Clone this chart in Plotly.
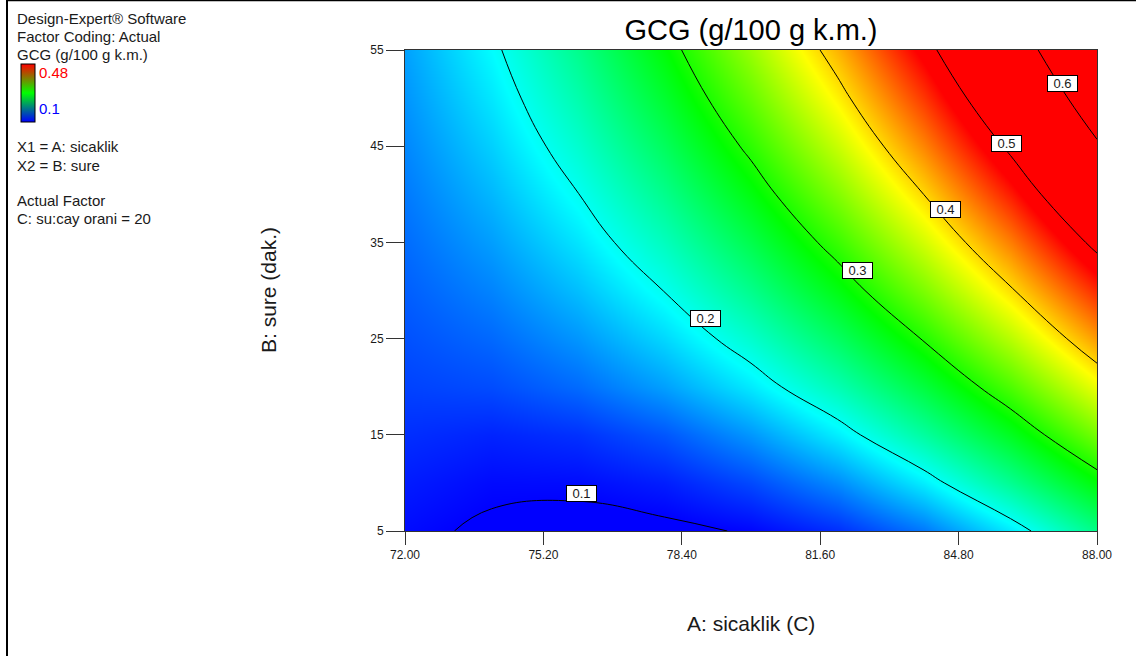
import plotly.graph_objects as go

# ---------------- data ----------------
x_vals = [72, 74, 76, 78, 80, 82, 84, 86, 88]                 # A: sicaklik (C)
y_vals = [5, 10, 15, 20, 25, 30, 35, 40, 45, 50, 55]          # B: sure (dak.)
z_y5  = [0.1040, 0.0970, 0.0935, 0.0955, 0.1017, 0.1170, 0.1445, 0.1875, 0.2400]
z_y10 = [0.1100, 0.1035, 0.1040, 0.1110, 0.1270, 0.1520, 0.1890, 0.2360, 0.2873]
z_y15 = [0.1170, 0.1130, 0.1180, 0.1320, 0.1560, 0.1890, 0.2306, 0.2781, 0.3336]
z_y20 = [0.1244, 0.1282, 0.1398, 0.1596, 0.1874, 0.2232, 0.2670, 0.3188, 0.3786]
z_y25 = [0.1298, 0.1389, 0.1557, 0.1805, 0.2132, 0.2537, 0.3021, 0.3583, 0.4224]
z_y30 = [0.1350, 0.1491, 0.1710, 0.2006, 0.2380, 0.2832, 0.3360, 0.3967, 0.4650]
z_y35 = [0.1402, 0.1591, 0.1856, 0.2198, 0.2618, 0.3114, 0.3688, 0.4337, 0.5100]
z_y40 = [0.1452, 0.1686, 0.1995, 0.2382, 0.2846, 0.3386, 0.4003, 0.4710, 0.5530]
z_y45 = [0.1503, 0.1778, 0.2130, 0.2559, 0.3065, 0.3647, 0.4308, 0.5070, 0.5950]
z_y50 = [0.1553, 0.1866, 0.2257, 0.2727, 0.3273, 0.3897, 0.4599, 0.5410, 0.6300]
z_y55 = [0.1600, 0.1949, 0.2378, 0.2884, 0.3470, 0.4134, 0.4878, 0.5699, 0.6640]
z_grid = [z_y5, z_y10, z_y15, z_y20, z_y25, z_y30, z_y35, z_y40, z_y45, z_y50, z_y55]

x_ticks = [72.0, 75.2, 78.4, 81.6, 84.8, 88.0]
y_ticks = [5, 15, 25, 35, 45, 55]
z_min, z_max = 0.1, 0.48
contour_levels = [0.1, 0.2, 0.3, 0.4, 0.5, 0.6]
contour_label_text = ["0.1", "0.2", "0.3", "0.4", "0.5", "0.6"]
contour_label_x = [76.09, 78.94, 82.46, 84.50, 85.91, 87.20]
contour_label_y = [8.9, 27.1, 32.1, 38.4, 45.3, 51.5]

# ---------------- layout constants ----------------
W, H = 1136, 656
L, R, T, B = 405, 1097, 50, 531
PW, PH = R - L, B - T
FONT = "Liberation Sans, Arial, sans-serif"
TXT = "#1a1a1a"

def px(xp):
    return (xp - L) / PW

def py(yp):
    return (B - yp) / PH

de_scale = [[0.0, "rgb(0,0,255)"], [0.25, "rgb(0,255,255)"], [0.5, "rgb(0,255,0)"],
            [0.75, "rgb(255,255,0)"], [1.0, "rgb(255,0,0)"]]
legend_scale = [[0.0, "rgb(0,0,255)"], [0.5, "rgb(0,255,0)"], [1.0, "rgb(255,0,0)"]]

fig = go.Figure()
fig.add_trace(go.Heatmap(
    x=x_vals, y=y_vals, z=z_grid, zmin=z_min, zmax=z_max,
    colorscale=de_scale, zsmooth="best", showscale=False, hoverinfo="skip"))
fig.add_trace(go.Contour(
    x=x_vals, y=y_vals, z=z_grid,
    contours=dict(start=contour_levels[0], end=contour_levels[-1], size=0.1,
                  coloring="none", showlabels=False),
    line=dict(color="black", width=1, smoothing=1.3),
    showscale=False, hoverinfo="skip"))
# small legend colour bar (top left)
fig.add_trace(go.Scatter(
    x=[None, None], y=[None, None], mode="markers",
    marker=dict(color=[z_min, z_max], cmin=z_min, cmax=z_max, colorscale=legend_scale,
                showscale=True,
                colorbar=dict(x=px(21), xanchor="left", y=py(93), yanchor="middle",
                              thickness=14, thicknessmode="pixels",
                              len=58, lenmode="pixels", xpad=0, ypad=0,
                              outlinecolor="black", outlinewidth=1,
                              showticklabels=False, ticks="")),
    showlegend=False, hoverinfo="skip"))

annotations = []
for t, xv, yv in zip(contour_label_text, contour_label_x, contour_label_y):
    annotations.append(dict(x=xv, y=yv, xref="x", yref="y", text=t, showarrow=False,
                            font=dict(family=FONT, size=13, color=TXT),
                            bgcolor="white", bordercolor="black", borderwidth=1,
                            borderpad=1, width=27, height=13))

info_lines = [("Design-Expert® Software", 18, 15, TXT),
              ("Factor Coding: Actual", 36, 15, TXT),
              ("GCG (g/100 g k.m.)", 55, 15, TXT),
              ("0.48", 72, 37, "rgb(255,0,0)"),
              ("0.1", 109, 37, "rgb(0,0,255)"),
              ("X1 = A: sicaklik", 146, 15, TXT),
              ("X2 = B: sure", 165, 15, TXT),
              ("Actual Factor", 201, 15, TXT),
              ("C: su:cay orani = 20", 219, 15, TXT)]
for t, yp, xp, c in info_lines:
    annotations.append(dict(x=px(xp), y=py(yp), xref="paper", yref="paper", text=t,
                            showarrow=False, xanchor="left", yanchor="middle",
                            font=dict(family=FONT, size=15, color=c)))

annotations.append(dict(x=0.5, y=py(623), xref="paper", yref="paper",
                        text="A: sicaklik (C)", showarrow=False, yanchor="middle",
                        font=dict(family=FONT, size=21, color=TXT)))
annotations.append(dict(x=px(268), y=py(290), xref="paper", yref="paper",
                        text="B: sure (dak.)", showarrow=False, textangle=-90,
                        xanchor="center", yanchor="middle",
                        font=dict(family=FONT, size=21, color=TXT)))

shapes = [dict(type="line", xref="paper", yref="paper", x0=px(7), x1=px(W + 5),
               y0=py(0.5), y1=py(0.5), line=dict(color="black", width=1.5)),
          dict(type="line", xref="paper", yref="paper", x0=px(7), x1=px(7),
               y0=py(0), y1=py(H + 5), line=dict(color="black", width=2))]

fig.update_layout(
    width=W, height=H, autosize=False,
    margin=dict(l=L, r=W - R, t=T, b=H - B),
    paper_bgcolor="white", plot_bgcolor="white",
    title=dict(text="GCG (g/100 g k.m.)", x=(L + R) / 2 / W, xanchor="center",
               y=1 - 30 / H, yanchor="middle", yref="container",
               font=dict(family=FONT, size=29, color="black")),
    xaxis=dict(range=[72, 88], tickvals=x_ticks, tickformat=".2f", ticks="outside",
               ticklen=13, tickcolor="#333", tickwidth=1, showline=True, mirror=True,
               linecolor="#333", linewidth=1, showgrid=False, zeroline=False,
               tickfont=dict(family=FONT, size=12, color=TXT)),
    yaxis=dict(range=[5, 55], tickvals=y_ticks, ticks="outside",
               ticklen=18, tickcolor="#333", tickwidth=1, showline=True, mirror=True,
               linecolor="#333", linewidth=1, showgrid=False, zeroline=False,
               tickfont=dict(family=FONT, size=12, color=TXT)),
    annotations=annotations, shapes=shapes, showlegend=False)

fig.write_html("out.html")
